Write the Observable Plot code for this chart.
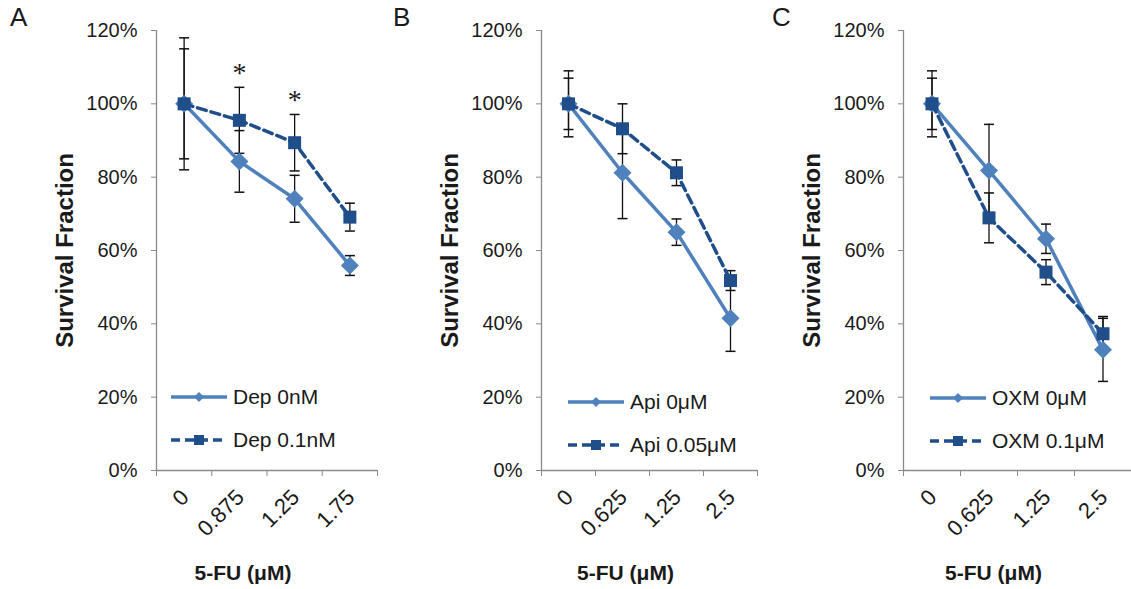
<!DOCTYPE html>
<html>
<head>
<meta charset="utf-8">
<script src="https://cdn.jsdelivr.net/npm/d3@7"></script>
<script src="https://cdn.jsdelivr.net/npm/@observablehq/plot@0.6"></script>
<style>
  html, body { margin: 0; padding: 0; background: #fff; }
  #root { position: relative; width: 1131px; height: 589px; overflow: hidden; font-family: "Liberation Sans", Arial, sans-serif; color: #1a1a1a; }
  .panel { position: absolute; top: 0; }
  .letter { position: absolute; top: 0px; font-size: 26px; line-height: 34px; }
  .legend { position: absolute; font-size: 21px; }
  .legend .row { display: flex; align-items: center; height: 43px; }
  .legend svg { display: block; margin-right: 5px; }
</style>
</head>
<body>
<div id="root"></div>
<script>
// ---------- data ----------
const panelLetters = ["A", "B", "C"];
const dosesA = ["0", "0.875", "1.25", "1.75"];
const dosesB = ["0", "0.625", "1.25", "2.5"];
const dosesC = ["0", "0.625", "1.25", "2.5"];

const seriesNamesA = ["Dep 0nM", "Dep 0.1nM"];
const seriesNamesB = ["Api 0μM", "Api 0.05μM"];
const seriesNamesC = ["OXM 0μM", "OXM 0.1μM"];

// survival fraction (mean) and error (SD)
const meanA0 = [1.00, 0.843, 0.741, 0.559];
const errA0  = [0.18, 0.084, 0.064, 0.027];
const meanA1 = [1.00, 0.955, 0.894, 0.691];
const errA1  = [0.15, 0.090, 0.077, 0.038];

const meanB0 = [1.00, 0.812, 0.650, 0.415];
const errB0  = [0.09, 0.125, 0.036, 0.090];
const meanB1 = [1.00, 0.932, 0.812, 0.518];
const errB1  = [0.07, 0.068, 0.035, 0.027];

const meanC0 = [1.00, 0.818, 0.632, 0.329];
const errC0  = [0.09, 0.126, 0.040, 0.086];
const meanC1 = [1.00, 0.689, 0.541, 0.373];
const errC1  = [0.07, 0.068, 0.034, 0.047];

// significance markers (index of dose) for panel A, series 1
const signifA = [1, 2];

const yTicks = [0, 0.2, 0.4, 0.6, 0.8, 1.0, 1.2];
const yLabel = "Survival Fraction";
const xLabel = "5-FU (μM)";

// ---------- styling ----------
const LIGHT = "#4f81bd";
const DARK = "#1f4e8a";
const AXIS = "#8a8a8a";

const diamondSym = { draw(ctx, size) { const r = Math.sqrt(size / Math.PI); ctx.moveTo(0, -r); ctx.lineTo(r, 0); ctx.lineTo(0, r); ctx.lineTo(-r, 0); ctx.closePath(); } };
const squareSym = { draw(ctx, size) { const r = Math.sqrt(size / Math.PI); ctx.rect(-r, -r, 2 * r, 2 * r); } };
const capSym = { draw(ctx, size) { const r = Math.sqrt(size / Math.PI); ctx.moveTo(-r, 0); ctx.lineTo(r, 0); } };

const panels = [
  { letter: panelLetters[0], doses: dosesA, names: seriesNamesA, m0: meanA0, e0: errA0, m1: meanA1, e1: errA1, signif: signifA,
    left: 0, width: 380, marginLeft: 156, marginRight: 3, letterX: 10, legend: { left: 170, top: 375 } },
  { letter: panelLetters[1], doses: dosesB, names: seriesNamesB, m0: meanB0, e0: errB0, m1: meanB1, e1: errB1, signif: [],
    left: 380, width: 380, marginLeft: 161, marginRight: 3, letterX: 393, legend: { left: 567, top: 380 } },
  { letter: panelLetters[2], doses: dosesC, names: seriesNamesC, m0: meanC0, e0: errC0, m1: meanC1, e1: errC1, signif: [],
    left: 760, width: 371, marginLeft: 143, marginRight: 0, letterX: 772, legend: { left: 929, top: 376 } }
];

const root = document.getElementById("root");

function rowsOf(doses, m, e) {
  return doses.map((d, i) => ({ i, dose: d, v: m[i], e: e[i] }));
}

function errorBars(rows) {
  return [
    Plot.ruleX(rows, { x: d => d.i + 0.5, y1: d => d.v - d.e, y2: d => d.v + d.e, stroke: "#111", strokeWidth: 1.3 }),
    Plot.dot(rows, { x: d => d.i + 0.5, y: d => d.v + d.e, symbol: capSym, r: 5, stroke: "#111", fill: "none", strokeWidth: 1.5 }),
    Plot.dot(rows, { x: d => d.i + 0.5, y: d => d.v - d.e, symbol: capSym, r: 5, stroke: "#111", fill: "none", strokeWidth: 1.5 })
  ];
}

for (const p of panels) {
  const r0 = rowsOf(p.doses, p.m0, p.e0);
  const r1 = rowsOf(p.doses, p.m1, p.e1);
  const sig = r1.filter(d => p.signif.includes(d.i));
  const chart = Plot.plot({
    width: p.width,
    height: 589,
    marginLeft: p.marginLeft,
    marginRight: p.marginRight,
    marginTop: 30,
    marginBottom: 119,
    style: { fontFamily: "'Liberation Sans', Arial, sans-serif", fontSize: "20px", color: "#1a1a1a", background: "transparent", overflow: "visible" },
    x: { type: "linear", domain: [0, p.doses.length], axis: null },
    y: { domain: [0, 1.2], axis: null },
    marks: [
      Plot.axisY({ ticks: yTicks, tickFormat: d => `${Math.round(d * 100)}%`, tickSize: 5, tickPadding: 14, stroke: AXIS, fill: "#1a1a1a", fontSize: 20, label: null }),
      Plot.axisX({ ticks: d3.range(p.doses.length + 1), tickFormat: () => "", tickSize: 6, stroke: AXIS, label: null }),
      Plot.ruleX([0], { stroke: AXIS, strokeWidth: 1.3 }),
      Plot.ruleY([0], { stroke: AXIS, strokeWidth: 1.3 }),
      Plot.text(p.doses, { x: (d, i) => i + 0.5, y: () => 0, rotate: -45, textAnchor: "end", lineAnchor: "middle", dx: 1, dy: 23, fontSize: 22, fill: "#1a1a1a" }),
      ...errorBars(r0),
      ...errorBars(r1),
      Plot.line(r0, { x: d => d.i + 0.5, y: "v", stroke: LIGHT, strokeWidth: 3.5 }),
      Plot.dot(r0, { x: d => d.i + 0.5, y: "v", symbol: diamondSym, r: 9, fill: LIGHT, stroke: "none" }),
      Plot.line(r1, { x: d => d.i + 0.5, y: "v", stroke: DARK, strokeWidth: 3.5, strokeDasharray: "9,5" }),
      Plot.dot(r1, { x: d => d.i + 0.5, y: "v", symbol: squareSym, r: 6.5, fill: DARK, stroke: "none" }),
      Plot.text(sig, { x: d => d.i + 0.5, y: d => d.v + d.e, text: () => "*", dy: -14, fontSize: 28, fill: "#1a1a1a", lineAnchor: "middle", fontFamily: "'Liberation Serif', serif" }),
      Plot.text([yLabel], { frameAnchor: "left", textAnchor: "middle", lineAnchor: "middle", dx: -91, rotate: -90, fontWeight: "bold", fontSize: 24, fill: "#1a1a1a" }),
      Plot.text([xLabel], { frameAnchor: "bottom", textAnchor: "middle", lineAnchor: "middle", dy: 103, dx: -24, fontWeight: "bold", fontSize: 21, fill: "#1a1a1a" })
    ]
  });
  const wrap = document.createElement("div");
  wrap.className = "panel";
  wrap.style.left = p.left + "px";
  wrap.appendChild(chart);
  root.appendChild(wrap);

  const letter = document.createElement("div");
  letter.className = "letter";
  letter.style.left = p.letterX + "px";
  letter.textContent = p.letter;
  root.appendChild(letter);

  // legend
  const lg = document.createElement("div");
  lg.className = "legend";
  lg.style.left = p.legend.left + "px";
  lg.style.top = p.legend.top + "px";
  p.names.forEach((name, k) => {
    const row = document.createElement("div");
    row.className = "row";
    const svg = d3.create("svg").attr("width", 58).attr("height", 16);
    if (k === 0) {
      svg.append("line").attr("x1", 1).attr("x2", 57).attr("y1", 8).attr("y2", 8).attr("stroke", LIGHT).attr("stroke-width", 3.5);
      svg.append("path").attr("d", "M29,3L34,8L29,13L24,8Z").attr("fill", LIGHT);
    } else {
      svg.append("line").attr("x1", 1).attr("x2", 57).attr("y1", 8).attr("y2", 8).attr("stroke", DARK).attr("stroke-width", 3.5).attr("stroke-dasharray", "9,5");
      svg.append("rect").attr("x", 24).attr("y", 3).attr("width", 10).attr("height", 10).attr("fill", DARK);
    }
    row.appendChild(svg.node());
    const t = document.createElement("span");
    t.textContent = name;
    row.appendChild(t);
    lg.appendChild(row);
  });
  root.appendChild(lg);
}
</script>
</body>
</html>
